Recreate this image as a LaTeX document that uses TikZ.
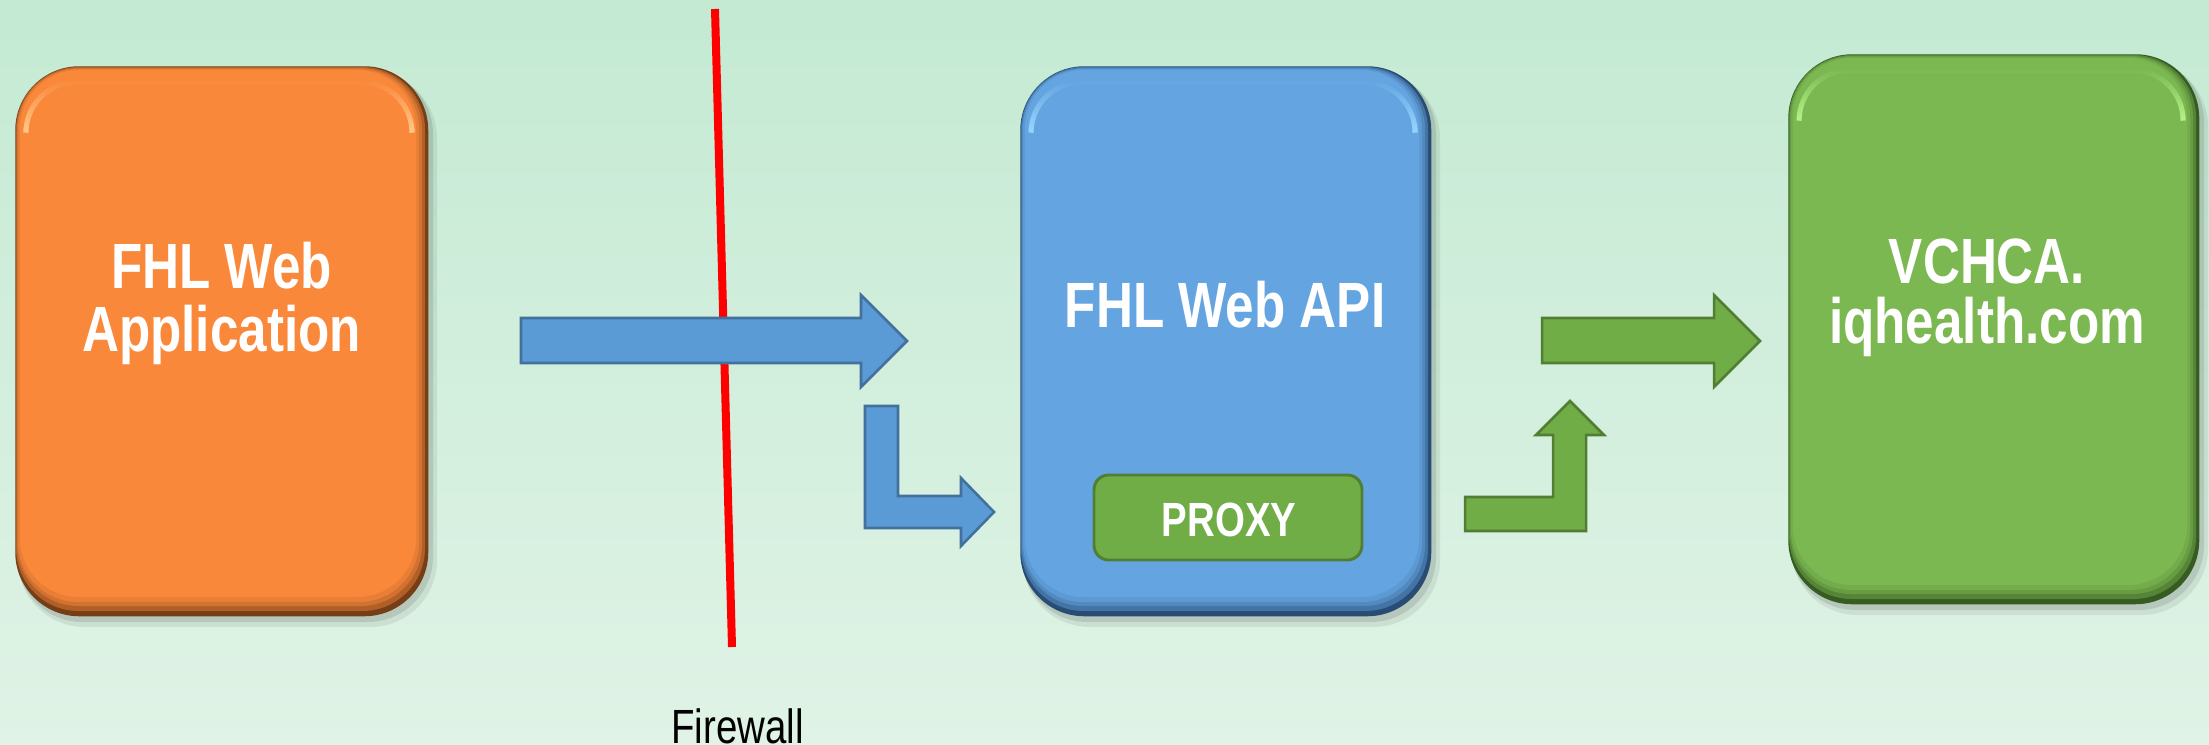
\documentclass[tikz,border=0pt]{standalone}
\usepackage{fontspec}
\usepackage{graphicx}
\setmainfont{Liberation Sans}
\usetikzlibrary{fadings}
\definecolor{bgtop}{RGB}{196,234,211}
\definecolor{bgbot}{RGB}{224,243,230}
\definecolor{orMain}{RGB}{249,136,59}
\definecolor{orDark}{RGB}{118,62,22}
\definecolor{orLight}{RGB}{255,200,135}
\definecolor{blMain}{RGB}{100,165,225}
\definecolor{blDark}{RGB}{40,76,116}
\definecolor{blLight}{RGB}{150,212,255}
\definecolor{grMain}{RGB}{123,184,81}
\definecolor{grDark}{RGB}{55,92,34}
\definecolor{grLight}{RGB}{180,240,135}
\definecolor{arBlue}{RGB}{91,155,213}
\definecolor{arBlueLine}{RGB}{65,113,156}
\definecolor{arGreen}{RGB}{112,173,71}
\definecolor{arGreenLine}{RGB}{80,126,50}
\definecolor{fwRed}{RGB}{255,0,0}
\newcommand\narrowtxt[1]{\scalebox{0.8}[1]{#1}}
% #1 name, #2 x1, #3 y1, #4 x2, #5 y2, #6 main, #7 dark, #8 light
\newcommand\bevelbox[8]{%
  \fill[black, opacity=0.07, rounded corners=50pt] (#2+3,#3+6) rectangle (#4+9,#5+11);
  \fill[black, opacity=0.10, rounded corners=49pt] (#2+2,#3+3) rectangle (#4+5,#5+6);
  \node[boxshape, fill=#7, anchor=north west,
        minimum width={(#4-#2)*0.75pt}, minimum height={(#5-#3)*0.75pt}] (#1) at (#2,#3) {};
  \fill[#6!45!#7, rounded corners=47pt] (#2+1,#3+1) rectangle (#4-3,#5-5);
  \fill[#6!70!#7, rounded corners=46pt] (#2+2,#3+2) rectangle (#4-6,#5-10);
  \fill[#6!88!#7, rounded corners=45pt] (#2+3,#3+3) rectangle (#4-9,#5-14);
  \fill[#6, rounded corners=44pt] (#2+5,#3+4) rectangle (#4-12,#5-19);
  \draw[#8, line width=3.8pt, rounded corners=38pt, path fading=north]
     (#2+11,#3+62) -- (#2+11,#3+16) -- (#4-16,#3+16) -- (#4-16,#3+62);
}
\begin{document}
\begin{tikzpicture}[x=0.75pt, y=-0.75pt,
  boxshape/.style={rectangle, rounded corners=48pt, inner sep=0pt, draw=none},
  boxtxt/.style={text=white, font=\fontsize{48}{58}\selectfont\bfseries, inner sep=0pt, anchor=base},
  proxybox/.style={rectangle, rounded corners=11pt, inner sep=0pt, fill=arGreen, draw=arGreenLine,
        line width=2.2pt, minimum width=201pt, minimum height=63.75pt},
  blueblock/.style={fill=arBlue, draw=arBlueLine, line width=1.9pt, line join=miter},
  greenblock/.style={fill=arGreen, draw=arGreenLine, line width=1.9pt, line join=miter},
  fwline/.style={draw=fwRed, line width=6pt},
  fwtxt/.style={text=black, font=\fontsize{36}{40}\selectfont, inner sep=0pt, anchor=base}]
\useasboundingbox (0,0) rectangle (2209,745);
\shade[top color=bgtop, bottom color=bgbot] (0,0) rectangle (2209,745);

% firewall line
\coordinate (fwTop) at (715,9);
\coordinate (fwBot) at (732,647);
\draw[fwline] (fwTop) -- (fwBot);
\node[fwtxt] (fwT) at (737.5,743) {\narrowtxt{Firewall}};

% block arrows
\fill[blueblock] (521,318) -- (861,318) -- (861,295) -- (907,341) -- (861,387) -- (861,363) -- (521,363) -- cycle;
\fill[blueblock] (865,406) -- (898,406) -- (898,496) -- (961,496) -- (961,478) -- (994,512) -- (961,546) -- (961,528) -- (865,528) -- cycle;
\fill[greenblock] (1542,318) -- (1714,318) -- (1714,295) -- (1760,341) -- (1714,387) -- (1714,363) -- (1542,363) -- cycle;
\fill[greenblock] (1465,497) -- (1553,497) -- (1553,435) -- (1536,435) -- (1570,401) -- (1604,435) -- (1586,435) -- (1586,531) -- (1465,531) -- cycle;

% boxes
\bevelbox{app}{15}{66}{428}{616}{orMain}{orDark}{orLight}
\bevelbox{api}{1020}{66}{1431}{616}{blMain}{blDark}{blLight}
\bevelbox{vchca}{1788}{54}{2199}{604}{grMain}{grDark}{grLight}

\node[proxybox] (proxy) at (1228,517.5) {};

% texts
\node[boxtxt] (appT1) at (221.5,289) {\narrowtxt{FHL Web}};
\node[boxtxt] (appT2) at (221.5,351) {\narrowtxt{Application}};
\node[boxtxt] (apiT) at (1225,327.5) {\narrowtxt{FHL Web API}};
\node[boxtxt] (vchT1) at (1987,284) {\narrowtxt{VCHCA.}};
\node[boxtxt] (vchT2) at (1987,344) {\narrowtxt{iqhealth.com}};
\node[boxtxt, font=\fontsize{36}{40}\selectfont\bfseries] (proxyT) at (1229,536) {\narrowtxt{PROXY}};
\end{tikzpicture}
\end{document}
